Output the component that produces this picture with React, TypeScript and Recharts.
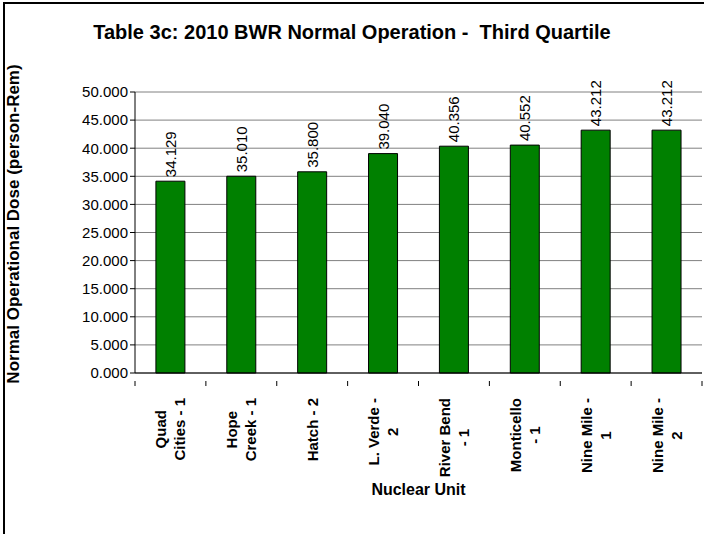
import { BarChart, Bar, XAxis, YAxis, CartesianGrid, LabelList } from "recharts";

const units = [
  "Quad\nCities - 1",
  "Hope\nCreek - 1",
  "Hatch - 2",
  "L. Verde -\n2",
  "River Bend\n- 1",
  "Monticello\n- 1",
  "Nine Mile -\n1",
  "Nine Mile -\n2",
];
const doses = [34.129, 35.01, 35.8, 39.04, 40.356, 40.552, 43.212, 43.212];
const yTicks = [0, 5, 10, 15, 20, 25, 30, 35, 40, 45, 50];

const data = units.map((unit, i) => ({ unit, dose: doses[i] }));

const FONT = "'Liberation Sans', Arial, sans-serif";
const BAND = 567 / units.length;

let ctx: CanvasRenderingContext2D | null = null;
function textWidth(s: string, font: string) {
  if (!ctx) ctx = document.createElement("canvas").getContext("2d");
  if (!ctx) return s.length * 9;
  ctx.font = font;
  return ctx.measureText(s).width;
}

function UnitTick(props: any) {
  const { x, y, payload, index } = props;
  const lines: string[] = String(payload.value).split("\n");
  const w = Math.max(...lines.map((l) => textWidth(l, `bold 15px ${FONT}`)));
  const lh = 19;
  const off = -((lines.length - 1) * lh) / 2;
  return (
    <g>
      <line x1={x - BAND / 2} y1={y} x2={x - BAND / 2} y2={y + 5} stroke="#000" />
      {index === units.length - 1 && (
        <line x1={x + BAND / 2} y1={y} x2={x + BAND / 2} y2={y + 5} stroke="#000" />
      )}
      <g transform={`translate(${x},${y + 17}) rotate(-90)`}>
        {lines.map((l, i) => (
          <text
            key={i}
            x={-w / 2}
            y={off + i * lh}
            textAnchor="middle"
            dominantBaseline="central"
            fontFamily={FONT}
            fontWeight="bold"
            fontSize={15}
            fill="#000"
          >
            {l}
          </text>
        ))}
      </g>
    </g>
  );
}

function ValueLabel(props: any) {
  const { x, y, width, value } = props;
  const cx = x + width / 2;
  return (
    <text
      transform={`translate(${cx},${y - 4}) rotate(-90)`}
      textAnchor="start"
      dominantBaseline="central"
      fontFamily={FONT}
      fontSize={15}
      fill="#000"
    >
      {Number(value).toFixed(3)}
    </text>
  );
}

export default function App() {
  return (
    <div
      style={{
        position: "absolute",
        left: 0,
        top: 0,
        width: 704,
        height: 534,
        background: "#fff",
        fontFamily: FONT,
      }}
    >
      <div
        style={{
          position: "absolute",
          left: 3,
          top: 2,
          width: 701,
          height: 532,
          borderLeft: "2px solid #000",
          borderTop: "2px solid #000",
        }}
      />
      <div
        style={{
          position: "absolute",
          left: 0,
          top: 21,
          width: 704,
          textAlign: "center",
          fontWeight: "bold",
          fontSize: 20,
        }}
      >
        Table 3c: 2010 BWR Normal Operation -&nbsp; Third Quartile
      </div>
      <div
        style={{
          position: "absolute",
          left: 14,
          top: 224,
          transform: "translate(-50%, -50%) rotate(-90deg)",
          whiteSpace: "nowrap",
          fontWeight: "bold",
          fontSize: 17,
        }}
      >
        Normal Operational Dose (person-Rem)
      </div>
      <div
        style={{
          position: "absolute",
          left: 135,
          top: 481,
          width: 567,
          textAlign: "center",
          fontWeight: "bold",
          fontSize: 16,
        }}
      >
        Nuclear Unit
      </div>
      <BarChart
        width={704}
        height={534}
        data={data}
        margin={{ top: 92, right: 2, bottom: 0, left: 0 }}
        barCategoryGap="29.5%"
        style={{ position: "absolute", left: 0, top: 0 }}
      >
        <CartesianGrid vertical={false} stroke="#808080" strokeWidth={1} />
        <XAxis
          dataKey="unit"
          height={161}
          interval={0}
          axisLine={{ stroke: "#000" }}
          tickLine={false}
          tick={<UnitTick />}
        />
        <YAxis
          width={135}
          domain={[0, 50]}
          ticks={yTicks}
          interval={0}
          tickSize={5}
          axisLine={{ stroke: "#000" }}
          tickLine={{ stroke: "#000" }}
          tickFormatter={(v: number) => v.toFixed(3)}
          tick={{ fontFamily: FONT, fontSize: 15, fill: "#000" }}
        />
        <YAxis
          yAxisId="frame"
          orientation="right"
          width={0}
          domain={[0, 50]}
          tick={false}
          tickLine={false}
          axisLine={{ stroke: "#808080" }}
        />
        <Bar dataKey="dose" fill="#008000" stroke="#000" strokeWidth={1} isAnimationActive={false}>
          <LabelList dataKey="dose" content={<ValueLabel />} />
        </Bar>
      </BarChart>
    </div>
  );
}
